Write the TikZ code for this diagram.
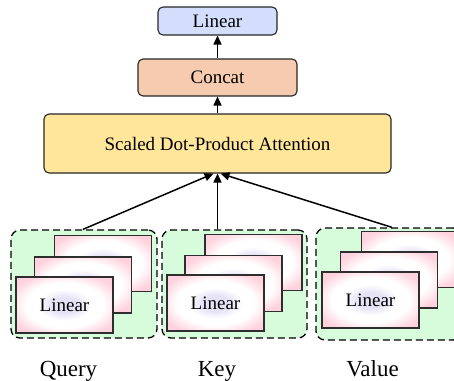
\documentclass[tikz,border=0pt]{standalone}
\usepackage{fontspec}
\setmainfont{Liberation Serif}
\usetikzlibrary{arrows.meta,positioning,calc}

\definecolor{linblue}{HTML}{D2DEFC}
\definecolor{catpeach}{HTML}{F6CBAF}
\definecolor{attyellow}{HTML}{FFE69A}
\definecolor{grpgreen}{HTML}{D6FCDC}
\definecolor{cardpink}{HTML}{FFD2DD}
\definecolor{cardlav}{HTML}{E6E2F6}
\definecolor{edgegray}{HTML}{2E2E2E}

% soft lavender centre fading through white to a pink rim
% (a node's box spans about +-25bp of the shading)
\pgfdeclareradialshading{cardshade}{\pgfpoint{0bp}{0bp}}{%
  color(0bp)=(cardlav); color(7bp)=(cardlav); color(14bp)=(white);
  color(20bp)=(white); color(30bp)=(cardpink); color(50bp)=(cardpink)}

\tikzset{
  block/.style={draw=black!85, line width=1.1pt, rounded corners=5pt,
    align=center, inner sep=0pt, font=\fontsize{19}{22}\selectfont},
  group/.style={draw=black, line width=1.3pt, dash pattern=on 7pt off 4pt,
    rounded corners=9pt, fill=grpgreen, inner sep=0pt},
  card/.style={draw=edgegray, line width=1.5pt, shading=cardshade,
    minimum width=97pt, minimum height=56pt, inner sep=0pt,
    font=\fontsize{19}{22}\selectfont},
  lbl/.style={font=\fontsize{23}{26}\selectfont, inner sep=0pt, anchor=base},
  flow/.style={line width=1.5pt, -{Triangle[length=9pt,width=8pt]}},
}

\begin{document}
\begin{tikzpicture}[x=1pt,y=-1pt]
\useasboundingbox (0,0) rectangle (454,380);
\clip (0,0) rectangle (454,380);

% output stack
\node[block, fill=linblue, minimum width=119pt, minimum height=28pt] (lin) at (217.5,21) {Linear};
\node[block, fill=catpeach, minimum width=159pt, minimum height=37pt] (cat) at (217.5,77.5) {Concat};
\node[block, fill=attyellow, minimum width=347pt, minimum height=59pt] (attn) at (217.5,143.5) {Scaled Dot-Product Attention};

\draw[flow] (cat.north) -- (lin.south);
\draw[flow] (attn.north) -- (cat.south);

% projection groups
\node[group, minimum width=146pt, minimum height=108pt] (qg) at (84,284) {};
\node[group, minimum width=145pt, minimum height=108pt] (kg) at (234.5,284) {};
\node[group, minimum width=146pt, minimum height=112pt] (vg) at (389,284) {};

% stacked linear heads
\node[card] (q3) at (103,263.5) {};
\node[card] (q2) at (83,285) {};
\node[card] (q1) at (64.5,305) {Linear};

\node[card] (k3) at (253.5,262.5) {};
\node[card] (k2) at (233.5,283.5) {};
\node[card] (k1) at (215.5,303) {Linear};

\node[card] (v3) at (410,259.5) {};
\node[card] (v2) at (389,280) {};
\node[card] (v1) at (370.5,300) {Linear};

% inputs feeding the attention block
\coordinate (qs) at ($(qg.north)+(-1,0)$);
\coordinate (ks) at (kg.north -| attn.south);
\coordinate (vs) at ($(vg.north)+(3,0)$);
\draw[flow] (qs) -- ($(attn.south)+(-4,0)$);
\draw[flow] (ks) -- (attn.south);
\draw[flow] (vs) -- ($(attn.south)+(3,0)$);

% input names
\node[lbl] (ql) at (68.5,376) {Query};
\node[lbl] (kl) at (217,376) {Key};
\node[lbl] (vl) at (372.5,376) {Value};
\end{tikzpicture}
\end{document}
